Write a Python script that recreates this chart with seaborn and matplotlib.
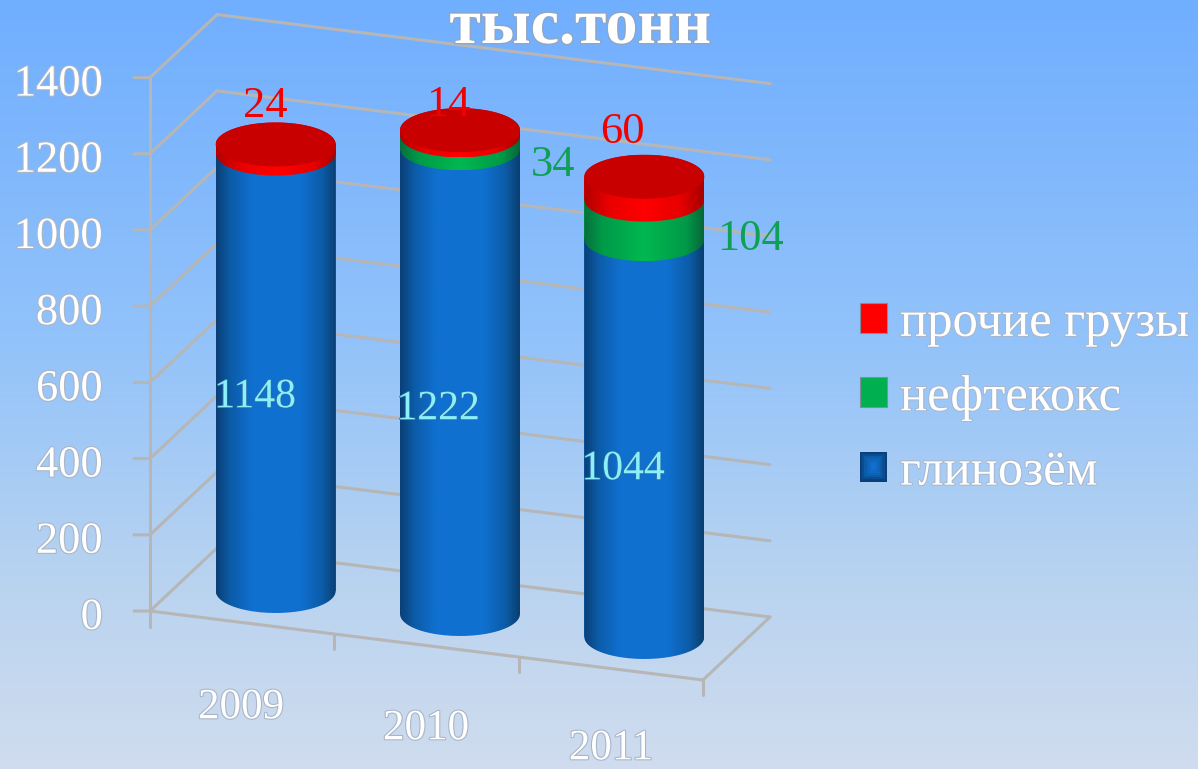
import numpy as np
import seaborn as sns
import matplotlib.pyplot as plt
import matplotlib.patheffects as pe
from matplotlib.colors import LinearSegmentedColormap
from matplotlib.legend_handler import HandlerBase
from matplotlib.patches import Patch, Rectangle
from matplotlib.path import Path
from matplotlib.transforms import Affine2D

years = ['2009', '2010', '2011']
alumina = [1148, 1222, 1044]
coke = [0, 34, 104]
other = [24, 14, 60]
y_ticks = [0, 200, 400, 600, 800, 1000, 1200, 1400]
names = ['прочие грузы', 'нефтекокс', 'глинозём']

W, H = 1198, 769
PX_X = 184.33   # pixels per category
PX_Y = 0.381    # pixels per ton
X0, Y0 = 242.17, 611   # category 0 on the front edge, value 0
SHEAR = 23 / PX_Y      # floor falls to the right, in value units per category
DEPTH_X = 67 / PX_X
DEPTH_Y = 63 / PX_Y
BAR_W = 120 / PX_X
RY = 22 / PX_Y

sns.set_style('white')
plt.rcParams['font.family'] = ['Liberation Serif', 'DejaVu Serif']

fig = plt.figure(figsize=(W / 100, H / 100), dpi=100)
ax = fig.add_axes([0, 0, 1, 1])
xlim = (-X0 / PX_X, (W - X0) / PX_X)
ylim = ((Y0 - H) / PX_Y, Y0 / PX_Y)


def pt(c, v, d=0.0):
    # category, value, depth (0 front, 1 back) -> flat axes coordinates
    return c + d * DEPTH_X, v - (c + 0.5) * SHEAR + d * DEPTH_Y


def px(dx, dy):
    return dx / PX_X, dy / PX_Y


# background
bg = LinearSegmentedColormap.from_list('bg', [(0, '#70AEFF'), (0.45, '#93C3FA'), (0.75, '#B8D3F0'), (1, '#D0DCEE')])
ax.imshow(np.linspace(0, 1, 256)[:, None], cmap=bg, aspect='auto', extent=(xlim[0], xlim[1], ylim[0], ylim[1]),
          origin='upper', zorder=0)

# stacked bars, moved to the middle of the floor depth
bottoms1 = np.array(alumina)
bottoms2 = bottoms1 + np.array(coke)
bar_kw = dict(saturation=1, width=BAR_W, errorbar=None, ax=ax, zorder=2, linewidth=0)
sns.barplot(x=years, y=alumina, color='#1070D0', **bar_kw)
sns.barplot(x=years, y=coke, bottom=bottoms1, color='#00B050', **bar_kw)
sns.barplot(x=years, y=other, bottom=bottoms2, color='#FF0000', **bar_kw)

blue = LinearSegmentedColormap.from_list('b', [(0, '#0A3F78'), (0.12, '#0C5CA8'), (0.3, '#1070D0'), (0.7, '#1070D0'),
                                               (0.88, '#0C5CA8'), (1, '#0A3F70')])
green = LinearSegmentedColormap.from_list('g', [(0, '#06703C'), (0.15, '#009A48'), (0.5, '#00B850'), (0.85, '#009A48'),
                                                (1, '#066838')])
red = LinearSegmentedColormap.from_list('r', [(0, '#B00000'), (0.2, '#E80000'), (0.5, '#FF0000'), (0.8, '#E80000'),
                                              (1, '#A80000')])
cmaps = [blue, green, red]

t = np.linspace(0, np.pi, 80)
for layer, (container, cmap) in enumerate(zip(ax.containers, cmaps)):
    for i, rect in enumerate(container):
        xc = rect.get_x() + rect.get_width() / 2
        r = rect.get_width() / 2
        v0 = rect.get_y()
        v1 = v0 + rect.get_height()
        off_x, off_y = pt(i, 0, 0.5)
        off_x -= i
        rect.set_transform(Affine2D().translate(off_x, off_y) + ax.transData)
        if rect.get_height() == 0:
            rect.set_visible(False)
            continue
        xs = xc + off_x - r * np.cos(t)
        lower = np.column_stack([xs, v0 + off_y - RY * np.sin(t)])
        upper = np.column_stack([xs[::-1], v1 + off_y + RY * np.sin(t[::-1])])
        clip = Path(np.vstack([lower, upper, lower[:1]]))
        im = ax.imshow(np.linspace(0, 1, 128)[None, :], cmap=cmap, aspect='auto', zorder=3 + layer,
                       extent=(xc + off_x - r, xc + off_x + r, v0 + off_y - RY, v1 + off_y + RY))
        im.set_clip_path(clip, transform=ax.transData)
        if layer == 2:
            ax.fill(xc + off_x + r * np.cos(2 * t), v1 + off_y + RY * np.sin(2 * t), color='#C80000', lw=0, zorder=7)

# walls and floor
grid_c = '#B6B6B6'
lw = 2.2
for v in y_ticks:
    a = pt(-0.5, v)
    b = pt(-0.5, v, 1)
    c = pt(2.5, v, 1)
    tick = (a[0] - px(16, 0)[0], a[1])
    ax.plot([tick[0], a[0], b[0], c[0]], [tick[1], a[1], b[1], c[1]], color=grid_c, lw=lw, zorder=1,
            solid_joinstyle='miter')
a = pt(-0.5, 0)
top = pt(-0.5, y_ticks[-1])
ax.plot([a[0], top[0]], [a[1] - px(0, 16)[1], top[1]], color=grid_c, lw=lw, zorder=1)
fl = [pt(-0.5, 0), pt(2.5, 0), pt(2.5, 0, 1)]
ax.plot([p[0] for p in fl], [p[1] for p in fl], color=grid_c, lw=lw, zorder=1)
for c in [0.5, 1.5, 2.5]:
    p = pt(c, 0)
    ax.plot([p[0], p[0]], [p[1], p[1] - px(0, 15)[1]], color=grid_c, lw=lw, zorder=1)

# texts
shadow = [pe.withStroke(linewidth=1.6, foreground='#A9B6C8')]


def label(x_px, y_px, s, color='white', size=32, effects=shadow, **kw):
    ax.text(xlim[0] + x_px / PX_X, ylim[1] - y_px / PX_Y, s, color=color, fontsize=size, path_effects=effects,
            va='center', zorder=9, **kw)


label(580, 28, 'тыс.тонн', size=46, ha='center', fontweight='bold',
      effects=[pe.withStroke(linewidth=2, foreground='#8FA6C4')])
for v in y_ticks:
    label(103, Y0 - v * PX_Y + 7, str(v), ha='right')

for i, (yr, x_px, y_px) in enumerate(zip(years, [241, 426, 611], [708, 729, 749])):
    label(x_px, y_px, yr, ha='center', size=31)

cyan = [pe.withStroke(linewidth=1.2, foreground='#2A6FA8')]
for v, x_px, y_px in zip(alumina, [255, 438, 623], [397, 409, 469]):
    label(x_px, y_px, str(v), color='#8CF0F8', size=30, ha='center', effects=cyan)
for v, x_px, y_px in zip(other, [265, 448, 622], [106, 105, 132]):
    label(x_px, y_px, str(v), color='#F00000', size=32, ha='center', effects=[])
for v, x_px, y_px in zip(coke[1:], [553, 750], [165, 239]):
    label(x_px, y_px, str(v), color='#10A055', size=32, ha='center', effects=[])


class GradientHandle(HandlerBase):
    def create_artists(self, legend, orig, xd, yd, width, height, fontsize, trans):
        out = []
        shades = blue(np.linspace(0, 0.3, 6))
        for k, col in enumerate(shades):
            inset = k * width / 12
            out.append(Rectangle((-xd + inset, -yd + inset), width - 2 * inset, height - 2 * inset, fc=col, lw=0,
                                 transform=trans))
        return out


handles = [Patch(fc='#FF0000', ec='#7F8FA0', lw=0.8), Patch(fc='#00B050', ec='#7F8FA0', lw=0.8), Patch(fc='#1070D0')]
leg = ax.legend(handles, names, loc='center left', bbox_to_anchor=(860 / W, 1 - 398 / H), frameon=False, fontsize=36.5,
                handlelength=0.53, handleheight=0.53, handletextpad=0.26, labelspacing=0.55, borderpad=0,
                borderaxespad=0, labelcolor='white', handler_map={handles[2]: GradientHandle()})
leg.set_zorder(9)
for txt in leg.get_texts():
    txt.set_path_effects([pe.withStroke(linewidth=1.4, foreground='#A9B6C8')])

ax.set_xlim(xlim)
ax.set_ylim(ylim)
ax.set_axis_off()
fig.savefig('out.png', dpi=100)
